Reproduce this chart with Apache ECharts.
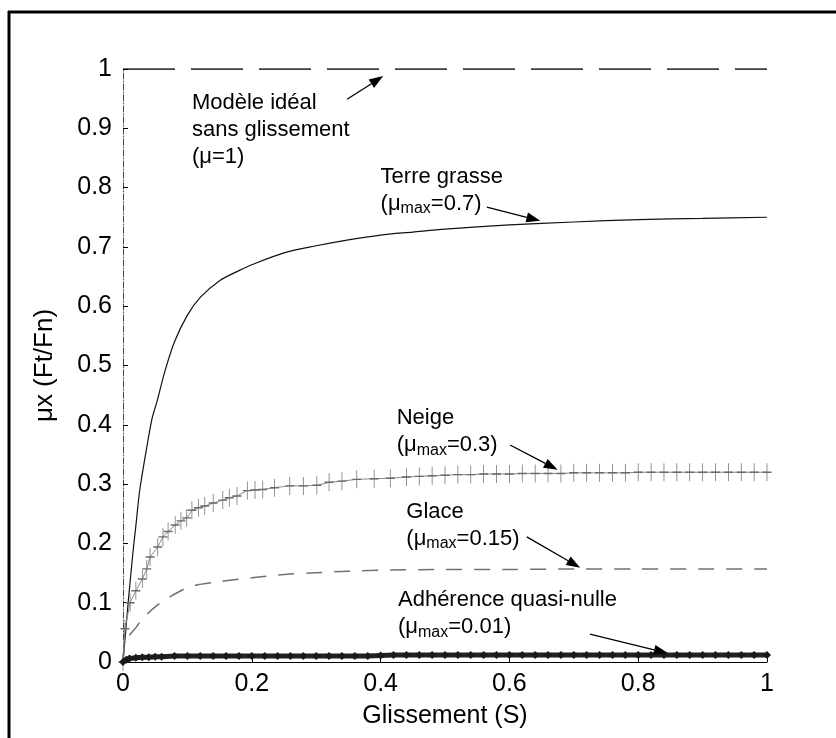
<!DOCTYPE html>
<html>
<head>
<meta charset="utf-8">
<script src="https://cdn.jsdelivr.net/npm/echarts@6/dist/echarts.min.js"></script>
<style>
  html, body { margin: 0; padding: 0; background: #fff; }
  #chart { width: 836px; height: 738px; }
</style>
</head>
<body>
<div id="chart"></div>
<script>
// Axis tick labels
const xTickLabels = ['0', '0.2', '0.4', '0.6', '0.8', '1'];
const yTickLabels = ['0', '0.1', '0.2', '0.3', '0.4', '0.5', '0.6', '0.7', '0.8', '0.9', '1'];

// Ideal model without slip (mu = 1)
const idealX = [0, 1];
const idealY = [1, 1];

// Terre grasse (mu_max = 0.7)
const terreX = [0, 0.003, 0.008, 0.015, 0.02, 0.026, 0.035, 0.045, 0.053, 0.065, 0.08, 0.1, 0.12, 0.15, 0.18, 0.2, 0.25, 0.3, 0.35, 0.4, 0.45, 0.5, 0.6, 0.7, 0.8, 0.9, 1];
const terreY = [0, 0.037, 0.1, 0.18, 0.23, 0.29, 0.35, 0.41, 0.44, 0.49, 0.54, 0.585, 0.615, 0.643, 0.66, 0.67, 0.69, 0.702, 0.712, 0.72, 0.725, 0.73, 0.737, 0.742, 0.746, 0.748, 0.75];

// Neige (mu_max = 0.3)
const neigeX = [0, 0.003, 0.011, 0.02, 0.03, 0.037, 0.042, 0.054, 0.062, 0.07, 0.081, 0.09, 0.099, 0.107, 0.117, 0.127, 0.14, 0.155, 0.165, 0.177, 0.193, 0.205, 0.217, 0.235, 0.259, 0.28, 0.301, 0.32, 0.34, 0.363, 0.39, 0.415, 0.44, 0.46, 0.48, 0.5, 0.52, 0.54, 0.56, 0.58, 0.6, 0.62, 0.64, 0.66, 0.68, 0.7, 0.72, 0.74, 0.76, 0.78, 0.8, 0.82, 0.84, 0.86, 0.88, 0.9, 0.92, 0.94, 0.96, 0.98, 1];
const neigeY = [0, 0.056, 0.1, 0.12, 0.14, 0.157, 0.177, 0.194, 0.211, 0.22, 0.231, 0.238, 0.243, 0.256, 0.26, 0.263, 0.268, 0.273, 0.277, 0.28, 0.289, 0.29, 0.291, 0.294, 0.297, 0.297, 0.298, 0.303, 0.305, 0.308, 0.309, 0.31, 0.312, 0.313, 0.314, 0.315, 0.316, 0.316, 0.317, 0.317, 0.317, 0.318, 0.318, 0.318, 0.318, 0.319, 0.319, 0.319, 0.319, 0.319, 0.32, 0.32, 0.32, 0.32, 0.32, 0.32, 0.32, 0.32, 0.32, 0.32, 0.32];

// Glace (mu_max = 0.15)
const glaceX = [0, 0.003, 0.01, 0.02, 0.026, 0.035, 0.05, 0.073, 0.104, 0.146, 0.2, 0.255, 0.29, 0.35, 0.415, 0.5, 0.6, 0.7, 0.8, 0.9, 1];
const glaceY = [0, 0.032, 0.045, 0.058, 0.067, 0.078, 0.093, 0.11, 0.127, 0.135, 0.142, 0.148, 0.15, 0.153, 0.155, 0.156, 0.156, 0.157, 0.157, 0.157, 0.157];

// Adherence quasi-nulle (mu_max = 0.01)
const adhX = [0, 0.005, 0.01, 0.02, 0.03, 0.04, 0.05, 0.06, 0.08, 0.1, 0.12, 0.14, 0.16, 0.18, 0.2, 0.22, 0.24, 0.26, 0.28, 0.3, 0.32, 0.34, 0.36, 0.38, 0.4, 0.42, 0.44, 0.46, 0.48, 0.5, 0.52, 0.54, 0.56, 0.58, 0.6, 0.62, 0.64, 0.66, 0.68, 0.7, 0.72, 0.74, 0.76, 0.78, 0.8, 0.82, 0.84, 0.86, 0.88, 0.9, 0.92, 0.94, 0.96, 0.98, 1];
const adhY = [0, 0.004, 0.006, 0.007, 0.008, 0.008, 0.009, 0.009, 0.01, 0.01, 0.01, 0.01, 0.01, 0.01, 0.01, 0.01, 0.01, 0.01, 0.01, 0.01, 0.01, 0.01, 0.01, 0.01, 0.011, 0.012, 0.012, 0.012, 0.012, 0.012, 0.012, 0.012, 0.012, 0.012, 0.012, 0.012, 0.012, 0.012, 0.012, 0.012, 0.012, 0.012, 0.012, 0.012, 0.012, 0.012, 0.012, 0.012, 0.012, 0.012, 0.012, 0.012, 0.012, 0.012, 0.012];

const FONT = '"Liberation Sans", Arial, Helvetica, sans-serif';

function pairs(xs, ys) { return xs.map((x, i) => [x, ys[i]]); }

const chart = echarts.init(document.getElementById('chart'), null, { renderer: 'canvas' });

// Thin "+" marker built from two filled bars
const plusPath = 'path://M4.6,0h0.8v10h-0.8z M0,4.6h10v0.8h-10z';

chart.setOption({
  animation: false,
  backgroundColor: '#fff',
  grid: { left: 123, right: 69, top: 69, bottom: 76, containLabel: false },
  xAxis: {
    type: 'value', min: 0, max: 1, interval: 0.2,
    name: 'Glissement (S)', nameLocation: 'middle', nameGap: 42,
    nameTextStyle: { fontFamily: FONT, fontSize: 25, color: '#000' },
    axisLine: { show: true, onZero: false, lineStyle: { color: '#000', width: 1 } },
    axisTick: { show: true, inside: true, length: 5, lineStyle: { color: '#000' } },
    axisLabel: {
      fontFamily: FONT, fontSize: 25, color: '#000', margin: 10,
      formatter: (v) => xTickLabels[Math.round(v / 0.2)]
    },
    splitLine: { show: false }
  },
  yAxis: {
    type: 'value', min: 0, max: 1, interval: 0.1,
    name: 'μx (Ft/Fn)', nameLocation: 'middle', nameGap: 65, nameRotate: 90,
    nameTextStyle: { fontFamily: FONT, fontSize: 26, color: '#000' },
    axisLine: { show: true, onZero: false, lineStyle: { color: '#444', width: 1, type: [6, 2, 1, 2] } },
    axisTick: { show: true, inside: true, length: 5, lineStyle: { color: '#000' } },
    axisLabel: {
      fontFamily: FONT, fontSize: 25, color: '#000', margin: 11,
      formatter: (v) => yTickLabels[Math.round(v * 10)]
    },
    splitLine: { show: false }
  },
  series: [
    {
      name: 'Modèle idéal', type: 'line', data: pairs(idealX, idealY),
      showSymbol: false, lineStyle: { color: '#000', width: 1.5, type: [52, 16] }, z: 3
    },
    {
      name: 'Terre grasse', type: 'line', data: pairs(terreX, terreY), smooth: 0.3,
      showSymbol: false, lineStyle: { color: '#111', width: 1.2 }, z: 3
    },
    {
      name: 'Neige', type: 'line', data: pairs(neigeX, neigeY),
      symbol: plusPath, symbolSize: [9, 18], symbolKeepAspect: false, showAllSymbol: true,
      itemStyle: { color: '#6a6a6a' },
      lineStyle: { color: '#8a8a8a', width: 1 }, z: 3
    },
    {
      name: 'Glace', type: 'line', data: pairs(glaceX, glaceY), smooth: 0.3,
      showSymbol: false, lineStyle: { color: '#707070', width: 1.5, type: [16, 12] }, z: 3
    },
    {
      name: 'Adhérence quasi-nulle', type: 'line', data: pairs(adhX, adhY),
      symbol: 'diamond', symbolSize: 8, showAllSymbol: true,
      itemStyle: { color: '#1a1a1a' },
      lineStyle: { color: '#222', width: 5 }, z: 4
    }
  ]
});

// Annotations anchored in data coordinates: text block centre-left and arrow from/to
const annotations = [
  { lines: [['Modèle idéal'], ['sans glissement'], ['(μ=1)']], at: [0.107, 0.897], from: [0.348, 0.949], to: [0.404, 0.988] },
  { lines: [['Terre grasse'], ['(μ', 'max', '=0.7)']], at: [0.4, 0.796], from: [0.565, 0.767], to: [0.648, 0.744] },
  { lines: [['Neige'], ['(μ', 'max', '=0.3)']], at: [0.425, 0.389], from: [0.601, 0.366], to: [0.675, 0.324] },
  { lines: [['Glace'], ['(μ', 'max', '=0.15)']], at: [0.44, 0.231], from: [0.627, 0.211], to: [0.71, 0.159] },
  { lines: [['Adhérence quasi-nulle'], ['(μ', 'max', '=0.01)']], at: [0.427, 0.082], from: [0.725, 0.047], to: [0.846, 0.015] }
];

function richLine(parts) {
  if (parts.length === 1) return '{t|' + parts[0] + '}';
  return '{t|' + parts[0] + '}{s|' + parts[1] + '}{t|' + parts[2] + '}';
}

const graphics = [];
// Figure frame (left and top edges)
graphics.push({ type: 'line', shape: { x1: 9, y1: 11, x2: 9, y2: 738 }, style: { stroke: '#000', lineWidth: 3 } });
graphics.push({ type: 'line', shape: { x1: 8, y1: 12, x2: 836, y2: 12 }, style: { stroke: '#000', lineWidth: 3 } });

annotations.forEach((a) => {
  const p = chart.convertToPixel({ gridIndex: 0 }, a.at);
  const f = chart.convertToPixel({ gridIndex: 0 }, a.from);
  const t = chart.convertToPixel({ gridIndex: 0 }, a.to);
  graphics.push({
    type: 'text', x: p[0], y: p[1], z: 10,
    style: {
      text: a.lines.map(richLine).join('\n'),
      align: 'left', verticalAlign: 'middle', fill: '#000',
      rich: {
        t: { fontFamily: FONT, fontSize: 22, lineHeight: 27, fill: '#000' },
        s: { fontFamily: FONT, fontSize: 16, lineHeight: 14, verticalAlign: 'bottom', fill: '#000' }
      }
    }
  });
  const dx = t[0] - f[0], dy = t[1] - f[1];
  const len = Math.sqrt(dx * dx + dy * dy);
  const ux = dx / len, uy = dy / len;
  const hl = 14, hw = 5;
  const bx = t[0] - ux * hl, by = t[1] - uy * hl;
  graphics.push({ type: 'line', z: 10, shape: { x1: f[0], y1: f[1], x2: bx, y2: by }, style: { stroke: '#000', lineWidth: 1.3 } });
  graphics.push({
    type: 'polygon', z: 10,
    shape: { points: [[t[0], t[1]], [bx - uy * hw, by + ux * hw], [bx + uy * hw, by - ux * hw]] },
    style: { fill: '#000' }
  });
});

chart.setOption({ graphic: graphics });
</script>
</body>
</html>
